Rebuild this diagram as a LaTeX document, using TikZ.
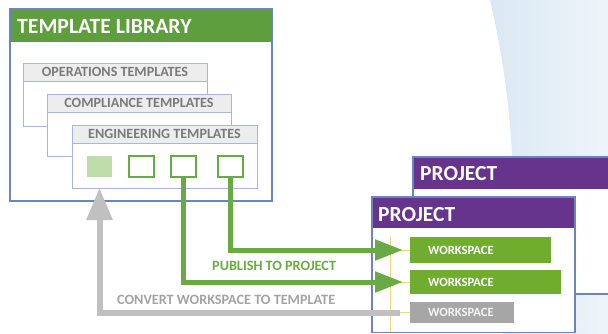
\documentclass[tikz,border=0pt]{standalone}
\usepackage{fontspec}
\setmainfont{Carlito}
\usetikzlibrary{arrows.meta,calc}

\definecolor{libgreen}{HTML}{5E9E3C}
\definecolor{wsgreen}{HTML}{70AD2E}
\definecolor{arrowgreen}{HTML}{6AAA45}
\definecolor{lightgreen}{HTML}{BFDDAB}
\definecolor{projpurple}{HTML}{66338D}
\definecolor{frameblue}{HTML}{6D84BC}
\definecolor{innerblue}{HTML}{A7B6DA}
\definecolor{headgray}{HTML}{EDEDED}
\definecolor{headtext}{HTML}{7A7A7A}
\definecolor{arrowgray}{HTML}{C0C0C0}
\definecolor{wsgray}{HTML}{A6A6A6}
\definecolor{treeyellow}{HTML}{F8D67E}
\definecolor{bgblueL}{HTML}{DAE8F3}
\definecolor{bgblueR}{HTML}{EEF5FA}

\tikzset{
  box/.style={draw, anchor=north west, inner sep=0pt, outer sep=0pt},
  frame/.style={box, draw=frameblue, line width=1.5pt, fill=white},
  subframe/.style={box, draw=innerblue, line width=0.9pt, fill=white},
  subhead/.style={box, draw=innerblue, line width=0.9pt, fill=headgray,
    minimum height=18pt, font=\bfseries\fontsize{14.1}{14.1}\selectfont,
    text=headtext},
  headbar/.style={box, draw=none, minimum height=#1},
  title/.style={anchor=base west, inner sep=0pt, text=white,
    font=\bfseries\fontsize{#1}{#1}\selectfont},
  slot/.style={box, draw=arrowgreen, line width=1.6pt, fill=white,
    minimum width=25pt, minimum height=21pt},
  wsbox/.style={box, draw=none, fill=wsgreen, text=white,
    font=\bfseries\fontsize{12.6}{12.6}\selectfont,
    align=left, text width=#1, inner xsep=0pt},
  publish/.style={draw=arrowgreen, line width=5pt, line join=miter,
    -{Triangle[length=28pt,width=20pt]}},
  convert/.style={draw=arrowgray, line width=6pt, line join=miter,
    -{Triangle[length=32pt,width=25pt]}},
  tree/.style={draw=treeyellow, line width=1pt},
  caption/.style={anchor=base west, inner sep=0pt,
    font=\bfseries\fontsize{14.2}{14.2}\selectfont}
}

\begin{document}
\begin{tikzpicture}[x=1pt,y=-1pt]
  \useasboundingbox (0,0) rectangle (608,334);

  % light blue backdrop on the right
  \shade[left color=bgblueL, right color=bgblueR]
    (490,0) arc[start angle=-13.23, end angle=8.82, radius=874]
    -- (608,334) -- (608,0) -- cycle;

  % ---------------- template library ----------------
  \node[frame, minimum width=262pt, minimum height=192pt] (lib) at (10,9) {};
  \node[headbar=32pt, fill=libgreen, minimum width=261pt] (libhead) at (10.75,9.75) {};
  \node[title=21.7] (libtitle) at (17,34) {TEMPLATE LIBRARY};

  \node[subframe, minimum width=184pt, minimum height=63pt] (ops) at (23,63) {};
  \node[subhead, minimum width=184pt] (opshead) at (23,63) {OPERATIONS TEMPLATES};

  \node[subframe, minimum width=184pt, minimum height=62pt] (comp) at (47,94) {};
  \node[subhead, minimum width=184pt] (comphead) at (47,94) {COMPLIANCE TEMPLATES};

  \node[subframe, minimum width=185pt, minimum height=63pt] (eng) at (72,125) {};
  \node[subhead, minimum width=185pt] (enghead) at (72,125) {ENGINEERING TEMPLATES};

  \node[box, draw=none, fill=lightgreen, minimum width=25pt, minimum height=21pt] (sq1) at (87,156) {};
  \node[slot] (sq2) at (129,156) {};
  \node[slot] (sq3) at (171,156) {};
  \node[slot] (sq4) at (218,156) {};

  % ---------------- projects ----------------
  \node[frame, minimum width=220pt, minimum height=137pt] (projB) at (413,157) {};
  \node[headbar=31pt, fill=projpurple, minimum width=220pt] (projBhead) at (413.75,157.75) {};
  \node[title=21.5] (projBtitle) at (420,180) {PROJECT};

  \node[frame, minimum width=203pt, minimum height=135.5pt] (projA) at (372,197) {};
  \node[headbar=30pt, fill=projpurple, minimum width=201.5pt] (projAhead) at (372.75,197.75) {};
  \node[title=21.5] (projAtitle) at (378,221) {PROJECT};

  \node[wsbox=141pt, minimum height=26pt] (ws1) at (410,237) {\hspace*{18pt}WORKSPACE};
  \node[wsbox=151pt, minimum height=24pt] (ws2) at (410,270) {\hspace*{18pt}WORKSPACE};
  \node[wsbox=104pt, minimum height=21pt, fill=wsgray, text=white!88!wsgray] (ws3) at (410,302) {\hspace*{18pt}WORKSPACE};

  % workspace tree
  \coordinate (treetop) at (390,237);
  \coordinate (treebot) at (390,332);
  \draw[tree] (treetop) -- (treebot);
  \draw[tree] (treetop |- ws1.west) -- (ws1.west);
  \draw[tree] (treetop |- ws2.west) -- (ws2.west);
  \draw[tree] (treetop |- ws3.west) -- (ws3.west);

  % ---------------- flows ----------------
  \draw[publish, shorten >=7pt] (sq4.south) |- (ws1.west);
  \draw[publish, shorten >=7pt] (sq3.south) |- (ws2.west);
  \draw[convert, shorten <=10pt] (ws3.west) -| (sq1.south |- eng.south);

  \node[caption, text=arrowgreen] (pubtext) at (212,270) {PUBLISH TO PROJECT};
  \node[caption, text=arrowgray!85!black] (convtext) at (117,304) {CONVERT WORKSPACE TO TEMPLATE};
\end{tikzpicture}
\end{document}
